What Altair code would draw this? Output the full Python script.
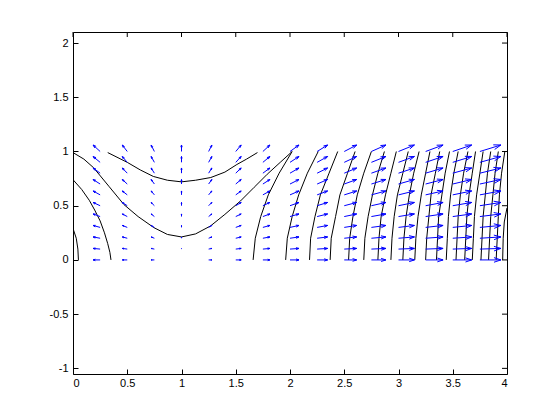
import altair as alt
import pandas as pd

# ---- axes ----
X_TICKS = [0, 0.5, 1, 1.5, 2, 2.5, 3, 3.5, 4]
Y_TICKS = [-1, -0.5, 0, 0.5, 1, 1.5, 2]
X_DOMAIN = [0, 4]
Y_DOMAIN = [-1.052, 2.102]

# ---- quiver grid (data units) ----
GRID_X = [0.25, 0.5, 0.75, 1.0, 1.25, 1.5, 1.75, 2.0, 2.25, 2.5, 2.75, 3.0, 3.25, 3.5, 3.75]
GRID_Y = [0.0, 0.1, 0.2, 0.3, 0.4, 0.5, 0.6, 0.7, 0.8, 0.9, 1.0]
U_COL = [-0.065, -0.046, -0.030, 0.0, 0.030, 0.050, 0.065, 0.083, 0.097, 0.115,
         0.134, 0.147, 0.161, 0.175, 0.194]
V_ROW = [0.0, 0.006, 0.012, 0.018, 0.024, 0.030, 0.036, 0.042, 0.048, 0.054, 0.060]

# ---- contour curves ----
CONTOUR_X = [
    [0.0, 0.03, 0.045, 0.05],
    [0.0, 0.08, 0.15, 0.20, 0.25, 0.29, 0.32, 0.34, 0.35],
    [0.0, 0.10, 0.19, 0.33, 0.47, 0.60, 0.745, 0.87, 1.0, 1.13, 1.267, 1.40, 1.544, 1.67, 1.79, 1.91, 2.02],
    [0.32, 0.50, 0.62, 0.74, 0.87, 1.0, 1.13, 1.27, 1.40, 1.51, 1.60, 1.70],
    [1.66, 1.68, 1.73, 1.80, 1.90, 2.02],
    [1.96, 1.975, 2.02, 2.08, 2.16, 2.26],
    [2.18, 2.19, 2.23, 2.28, 2.36, 2.44],
    [2.37, 2.38, 2.42, 2.46, 2.53, 2.60],
    [2.54, 2.55, 2.58, 2.62, 2.68, 2.75],
    [2.68, 2.69, 2.72, 2.76, 2.81, 2.87],
    [2.81, 2.82, 2.84, 2.88, 2.93, 2.98],
    [2.93, 2.94, 2.96, 2.99, 3.04, 3.09],
    [3.04, 3.05, 3.07, 3.10, 3.14, 3.19],
    [3.15, 3.16, 3.18, 3.21, 3.25, 3.29],
    [3.25, 3.26, 3.28, 3.30, 3.34, 3.38],
    [3.35, 3.36, 3.37, 3.40, 3.43, 3.47],
    [3.44, 3.45, 3.46, 3.48, 3.51, 3.55],
    [3.53, 3.54, 3.55, 3.57, 3.60, 3.64],
    [3.61, 3.62, 3.63, 3.65, 3.68, 3.71],
    [3.68, 3.69, 3.70, 3.72, 3.75, 3.78],
    [3.76, 3.77, 3.78, 3.80, 3.82, 3.85],
    [3.83, 3.84, 3.85, 3.87, 3.89, 3.92],
    [3.90, 3.91, 3.92, 3.93, 3.95, 3.98],
    [3.96, 3.965, 3.975, 4.0],
]
CONTOUR_Y = [
    [0.29, 0.20, 0.10, 0.0],
    [0.74, 0.65, 0.55, 0.46, 0.36, 0.25, 0.15, 0.07, 0.0],
    [0.99, 0.93, 0.85, 0.68, 0.51, 0.40, 0.298, 0.235, 0.212, 0.24, 0.313, 0.42, 0.544, 0.67, 0.79, 0.90, 1.0],
    [0.99, 0.90, 0.83, 0.77, 0.735, 0.72, 0.735, 0.76, 0.81, 0.88, 0.93, 0.99],
] + [[0.0, 0.2, 0.4, 0.6, 0.8, 1.0]] * 19 + [[0.0, 0.2, 0.35, 0.48]]

# ---- build tables ----
vec_rows = []
for i, gx in enumerate(GRID_X):
    for j, gy in enumerate(GRID_Y):
        vec_rows.append({"x": gx, "y": gy, "u": U_COL[i], "v": V_ROW[j]})
vec_df = pd.DataFrame(vec_rows)

con_rows = []
for cid, (xs, ys) in enumerate(zip(CONTOUR_X, CONTOUR_Y)):
    for k, (cx, cy) in enumerate(zip(xs, ys)):
        con_rows.append({"cid": cid, "k": k, "x": cx, "y": cy})
con_df = pd.DataFrame(con_rows)

xt_df = pd.DataFrame({"t": X_TICKS})
yt_df = pd.DataFrame({"t": Y_TICKS})

W, H = 434, 342
FONT = "Liberation Sans"
xscale = alt.Scale(domain=X_DOMAIN, nice=False, zero=False)
yscale = alt.Scale(domain=Y_DOMAIN, nice=False, zero=False)

x_axis = alt.Axis(values=X_TICKS, labelExpr="'' + datum.value", offset=-5, tickSize=5,
                  domain=False, grid=False, labelPadding=3, title=None,
                  labelFont=FONT, labelFontSize=11, labelColor="black", tickColor="black")
y_axis = alt.Axis(values=Y_TICKS, labelExpr="'' + datum.value", offset=-5, tickSize=5,
                  domain=False, grid=False, labelPadding=5, title=None,
                  labelFont=FONT, labelFontSize=11, labelColor="black", tickColor="black")

contours = alt.Chart(con_df).mark_line(color="black", strokeWidth=1, clip=True).encode(
    x=alt.X("x:Q", scale=xscale, axis=x_axis),
    y=alt.Y("y:Q", scale=yscale, axis=y_axis),
    detail="cid:N",
    order="k:Q",
)

base = alt.Chart(vec_df).transform_calculate(
    xe="datum.x + datum.u",
    ye="datum.y + datum.v",
    h1x="datum.x + datum.u - 0.33*(datum.u + 0.33*datum.v)",
    h1y="datum.y + datum.v - 0.33*(datum.v - 0.33*datum.u)",
    h2x="datum.x + datum.u - 0.33*(datum.u - 0.33*datum.v)",
    h2y="datum.y + datum.v - 0.33*(datum.v + 0.33*datum.u)",
)
BLUE = "#0000ff"
shafts = base.mark_rule(color=BLUE, strokeWidth=1, clip=True).encode(
    x=alt.X("x:Q", scale=xscale, axis=x_axis), y=alt.Y("y:Q", scale=yscale, axis=y_axis),
    x2="xe:Q", y2="ye:Q")
head1 = base.mark_rule(color=BLUE, strokeWidth=1, clip=True).encode(
    x=alt.X("xe:Q", scale=xscale, axis=x_axis), y=alt.Y("ye:Q", scale=yscale, axis=y_axis),
    x2="h1x:Q", y2="h1y:Q")
head2 = base.mark_rule(color=BLUE, strokeWidth=1, clip=True).encode(
    x=alt.X("xe:Q", scale=xscale, axis=x_axis), y=alt.Y("ye:Q", scale=yscale, axis=y_axis),
    x2="h2x:Q", y2="h2y:Q")

top_ticks = alt.Chart(xt_df).mark_rule(color="black").encode(
    x=alt.X("t:Q", scale=xscale, axis=x_axis), y=alt.value(0), y2=alt.value(5))
right_ticks = alt.Chart(yt_df).mark_rule(color="black").encode(
    y=alt.Y("t:Q", scale=yscale, axis=y_axis), x=alt.value(W - 5), x2=alt.value(W))

chart = alt.layer(contours, shafts, head1, head2, top_ticks, right_ticks).properties(
    width=W, height=H,
    autosize=alt.AutoSizeParams(type="none"),
    padding={"left": 65, "top": 24, "right": 20, "bottom": 40},
    background="white",
).configure_view(stroke="black", strokeWidth=1)

chart.save("out.html", embed_options={"renderer": "svg", "actions": False})
